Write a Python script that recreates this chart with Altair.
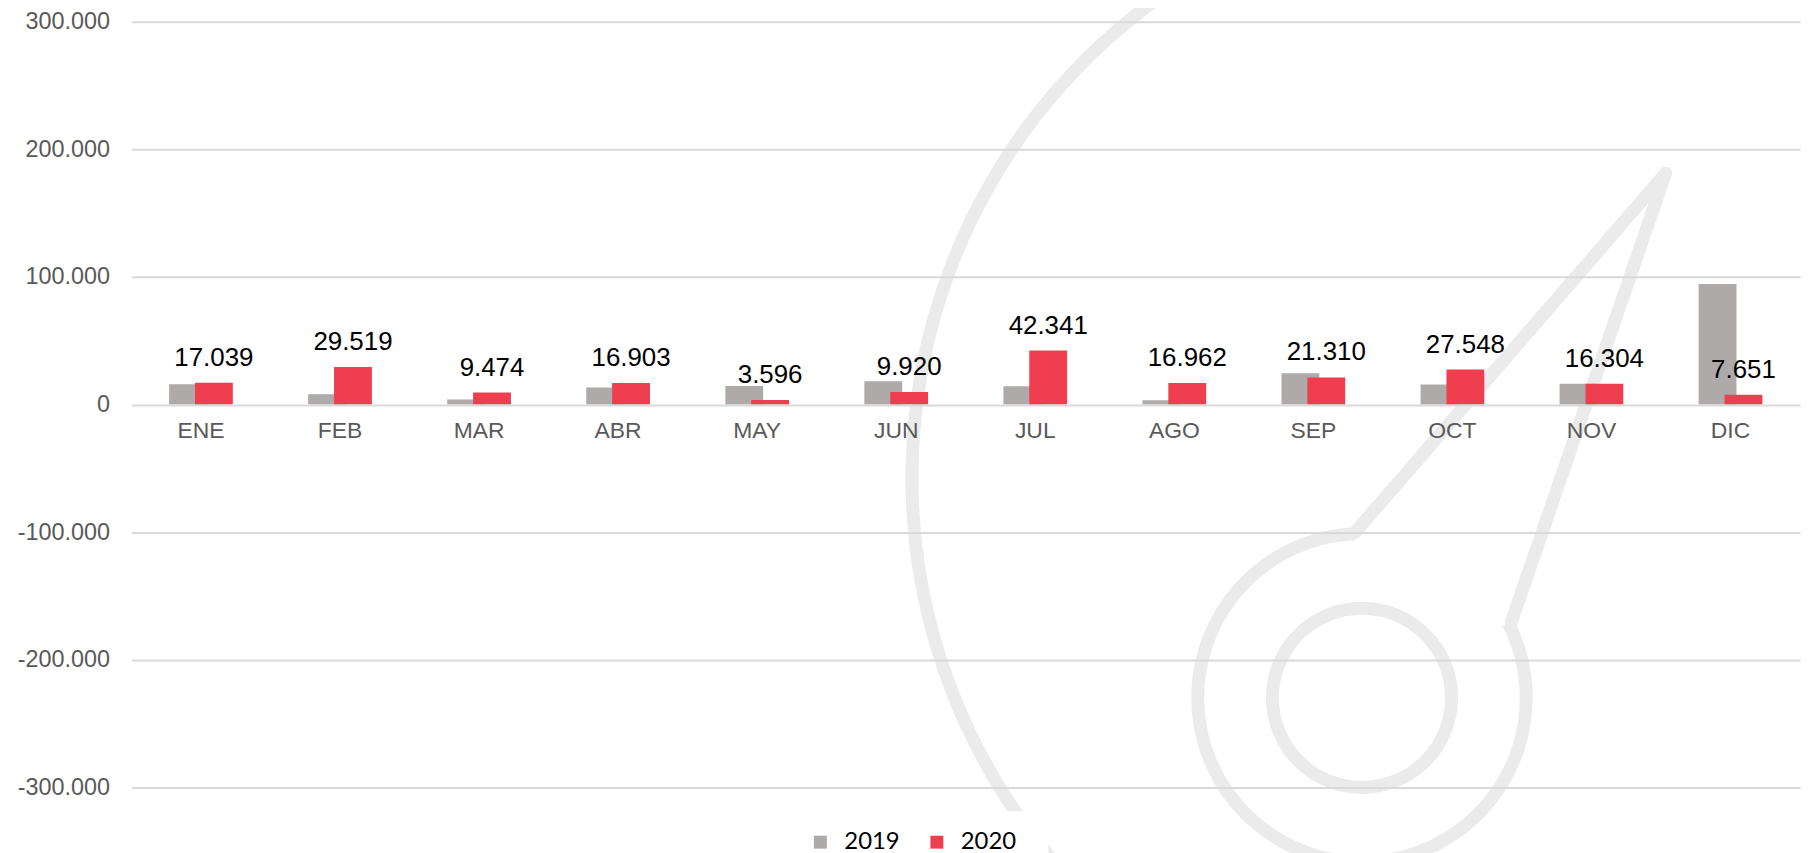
import altair as alt
import pandas as pd

# ---------------- data ----------------
months = ["ENE", "FEB", "MAR", "ABR", "MAY", "JUN", "JUL", "AGO", "SEP", "OCT", "NOV", "DIC"]
v2019 = [16000, 8100, 4100, 13500, 14500, 18300, 14400, 3500, 24500, 15700, 16400, 94500]
v2020 = [17039, 29519, 9474, 16903, 3596, 9920, 42341, 16962, 21310, 27548, 16304, 7651]
years = ["2019", "2020"]
y_ticks = [-300000, -200000, -100000, 0, 100000, 200000, 300000]

GRAY = "#AEAAAA"
RED = "#EF3E4F"
WM = "#EBEBEB"
AXIS_TXT = "#595959"
FONT = "Liberation Sans"

rows = []
for m, a, b in zip(months, v2019, v2020):
    rows.append({"mes": m, "anio": "2019", "valor": a})
    rows.append({"mes": m, "anio": "2020", "valor": b})
df = pd.DataFrame(rows)
df["etiqueta"] = df["valor"].map(lambda v: f"{v:,}".replace(",", "."))

W, H = 1676, 769
LEFT, TOP = 124, 12

x_enc = alt.X(
    "mes:N", sort=months,
    scale=alt.Scale(paddingInner=0, paddingOuter=0),
    axis=alt.Axis(title=None, labelAngle=0, domain=False, ticks=False, tickSize=0,
                  grid=False, labelPadding=33.5, labelBaseline="alphabetic",
                  offset=-H / 2, labelFontSize=23, labelColor=AXIS_TXT,
                  labelFont=FONT, zindex=1),
)
y_enc = alt.Y(
    "valor:Q",
    scale=alt.Scale(domain=[-300000, 300000], nice=False),
    axis=alt.Axis(title=None, values=y_ticks,
                  labelExpr="(datum.value < 0 ? '-' : '') + replace(format(abs(datum.value), ',.0f'), regexp(',', 'g'), '.')",
                  domain=False, ticks=False, tickSize=0, labelPadding=22,
                  grid=True, gridColor="#D9D9D9", gridWidth=2,
                  labelFontSize=23.5, labelColor=AXIS_TXT, labelFont=FONT, zindex=1),
)
color_enc = alt.Color(
    "anio:N",
    scale=alt.Scale(domain=years, range=[GRAY, RED]),
    legend=alt.Legend(title=None, orient="none", legendX=680, legendY=812,
                      direction="horizontal", symbolType="square", symbolSize=169,
                      symbolStrokeWidth=0, labelFontSize=24, labelFont="Lato",
                      labelColor="#000000", labelOffset=12, columnPadding=25,
                      padding=0, labelLimit=200),
)

base = alt.Chart(df)
bars19 = base.transform_filter("datum.anio == '2019'").mark_bar(width=38, xOffset=-13).encode(
    x=x_enc, y=y_enc, y2=alt.datum(0), color=color_enc)
bars20 = base.transform_filter("datum.anio == '2020'").mark_bar(width=38, xOffset=13).encode(
    x=x_enc, y=y_enc, y2=alt.datum(0), color=color_enc)
labels = base.transform_filter("datum.anio == '2020'").mark_text(
    xOffset=13, dy=-17, baseline="alphabetic", fontSize=26, font=FONT, color="#000000"
).encode(x=x_enc, y=y_enc, text="etiqueta:N")

# ---------------- decorative watermark (logo) ----------------
one = alt.Data(values=[{"k": 1}])


def ring(cx, cy, r, w, t0, t1):
    return alt.Chart(one).mark_arc(color=WM).encode(
        x=alt.value(cx), y=alt.value(cy),
        theta=alt.value(t0), theta2=alt.value(t1),
        radius=alt.value(r + w / 2), radius2=alt.value(r - w / 2))


def stroke(x1, y1, x2, y2, w):
    return alt.Chart(one).mark_rule(color=WM, strokeWidth=w, strokeCap="round").encode(
        x=alt.value(x1), y=alt.value(y1), x2=alt.value(x2), y2=alt.value(y2))


# white background box behind the legend (covers the watermark there)
legend_box = alt.Chart(one).mark_rect(color="white").encode(
    x=alt.value(640), x2=alt.value(921), y=alt.value(793), y2=alt.value(860))

wm_layers = [
    ring(1377, 458, 593, 13, 3.85, 5.85),
    ring(1236, 679, 90, 13, 0, 6.2832),
    ring(1236, 679, 165, 13, 1.10, 6.24),
    stroke(1229, 513, 1541, 152, 13),
    stroke(1386, 603, 1541, 152, 13),
    legend_box,
]

chart = alt.layer(*wm_layers, bars19, bars20, labels).properties(
    width=W, height=H,
    autosize=alt.AutoSizeParams(type="none"),
    padding={"left": LEFT, "top": TOP, "right": 8, "bottom": 64},
    background="white",
).configure_view(stroke=None)

chart.save("out.html", embed_options={"renderer": "svg", "actions": False})
